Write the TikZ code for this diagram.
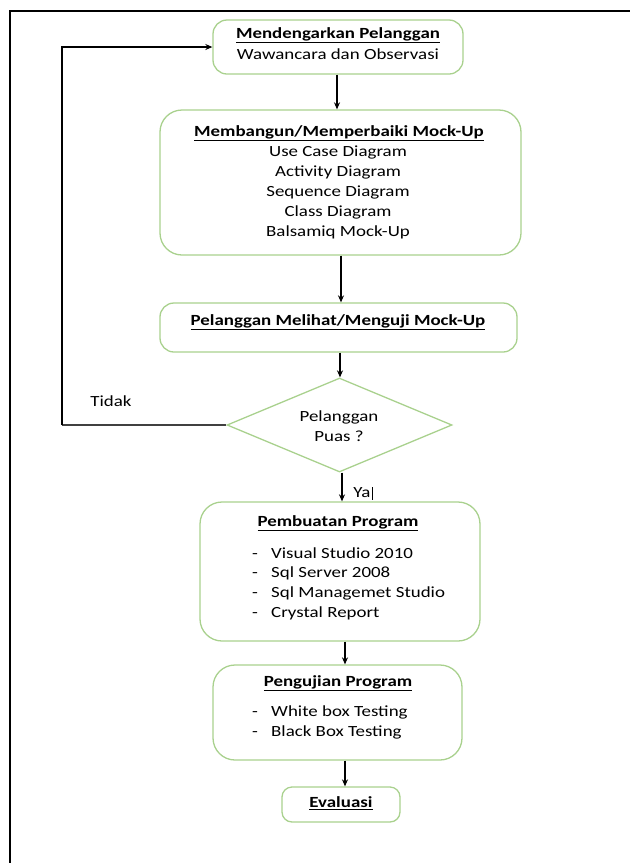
\documentclass[tikz,border=0pt]{standalone}
\usepackage{fontspec}
\setmainfont{Carlito}[FakeStretch=1.22]
\usetikzlibrary{shapes.geometric,arrows.meta}
\definecolor{boxgreen}{RGB}{169,209,142}
\tikzset{
  box/.style={draw=boxgreen,line width=1.3pt,rounded corners=14pt,inner sep=0pt},
  bigbox/.style={box,rounded corners=22pt},
  dia/.style={draw=boxgreen,line width=1.3pt,shape=diamond,inner sep=0pt,aspect=2.4},
  txt/.style={inner sep=0pt,font=\fontsize{15.5}{18}\selectfont,text=black},
  ttl/.style={txt,font=\fontsize{15.5}{18}\selectfont\bfseries},
  item/.style={txt,anchor=west},
  arr/.style={line width=1.3pt,-{Stealth[length=7pt,width=6pt]}},
  conn/.style={line width=1.3pt,draw=black!75}
}
\newcommand{\dashitem}[1]{\makebox[19pt][l]{-}#1}
\begin{document}
\begin{tikzpicture}[x=1pt,y=-1pt]
\useasboundingbox (0,0) rectangle (630,863);
% frame
\draw[line width=2pt] (10,863) -- (10,11) -- (630,11);
% boxes
\node[box,minimum width=250pt,minimum height=54pt] (b1) at (338,47) {};
\node[bigbox,minimum width=361pt,minimum height=145pt] (b2) at (340.5,182.5) {};
\node[box,minimum width=357pt,minimum height=49pt] (b3) at (338.5,327.5) {};
\node[dia,minimum width=225pt,minimum height=94pt] (d) at (339.5,425) {};
\node[bigbox,minimum width=280pt,minimum height=139pt] (b4) at (340,571.5) {};
\node[bigbox,minimum width=249pt,minimum height=95pt] (b5) at (337.5,712.5) {};
\node[box,rounded corners=10pt,minimum width=118pt,minimum height=35pt] (b6) at (341,804.5) {};
% texts box1
\node[ttl] (t1) at (338,35) {\underline{Mendengarkan Pelanggan}};
\node[txt] (t1a) at (338,54) {Wawancara dan Observasi};
% box2
\node[ttl] (t2) at (339,133) {\underline{Membangun/Memperbaiki Mock-Up}};
\node[txt] (t2a) at (338,152) {Use Case Diagram};
\node[txt] (t2b) at (338,172) {Activity Diagram};
\node[txt] (t2c) at (338,192) {Sequence Diagram};
\node[txt] (t2d) at (338,212) {Class Diagram};
\node[txt] (t2e) at (338,232) {Balsamiq Mock-Up};
% box3
\node[ttl] (t3) at (338,322) {\underline{Pelanggan Melihat/Menguji Mock-Up}};
% diamond
\node[txt] (td1) at (339,417) {Pelanggan};
\node[txt] (td2) at (339,436) {Puas ?};
% box4
\node[ttl] (t4) at (338,523) {\underline{Pembuatan Program}};
\node[item] (t4a) at (252,553) {\dashitem{Visual Studio 2010}};
\node[item] (t4b) at (252,573) {\dashitem{Sql Server 2008}};
\node[item] (t4c) at (252,593) {\dashitem{Sql Managemet Studio}};
\node[item] (t4d) at (252,613) {\dashitem{Crystal Report}};
% box5
\node[ttl] (t5) at (338,683) {\underline{Pengujian Program}};
\node[item] (t5a) at (252,712) {\dashitem{White box Testing}};
\node[item] (t5b) at (252,732) {\dashitem{Black Box Testing}};
% box6
\node[ttl] (t6) at (341,803) {\underline{Evaluasi}};
% labels
\node[txt] (tidak) at (111,401) {Tidak};
\node[txt] (ya) at (362,493) {Ya};
\coordinate (yb1) at (372,487);
\coordinate (yb2) at (372,500);
\draw[line width=0.8pt] (yb1) -- (yb2);
% connectors
\coordinate (x1) at (337,0);
\coordinate (x2) at (341,0);
\coordinate (x3) at (340,0);
\coordinate (x4) at (342,0);
\coordinate (x5) at (345,0);
\draw[arr] (b1.south -| x1) -- (b2.north -| x1);
\draw[arr] (b2.south -| x2) -- (b3.north -| x2);
\draw[arr] (b3.south -| x3) -- (d.north -| x3);
\draw[arr] (d.south -| x4) -- (b4.north -| x4);
\draw[arr] (b4.south -| x5) -- (b5.north -| x5);
\draw[arr] (b5.south -| x5) -- (b6.north -| x5);
\coordinate (lc) at (62,425);
\draw[conn] (d.west) -- (lc);
\draw[arr] (lc) |- (b1.west);
\end{tikzpicture}
\end{document}
